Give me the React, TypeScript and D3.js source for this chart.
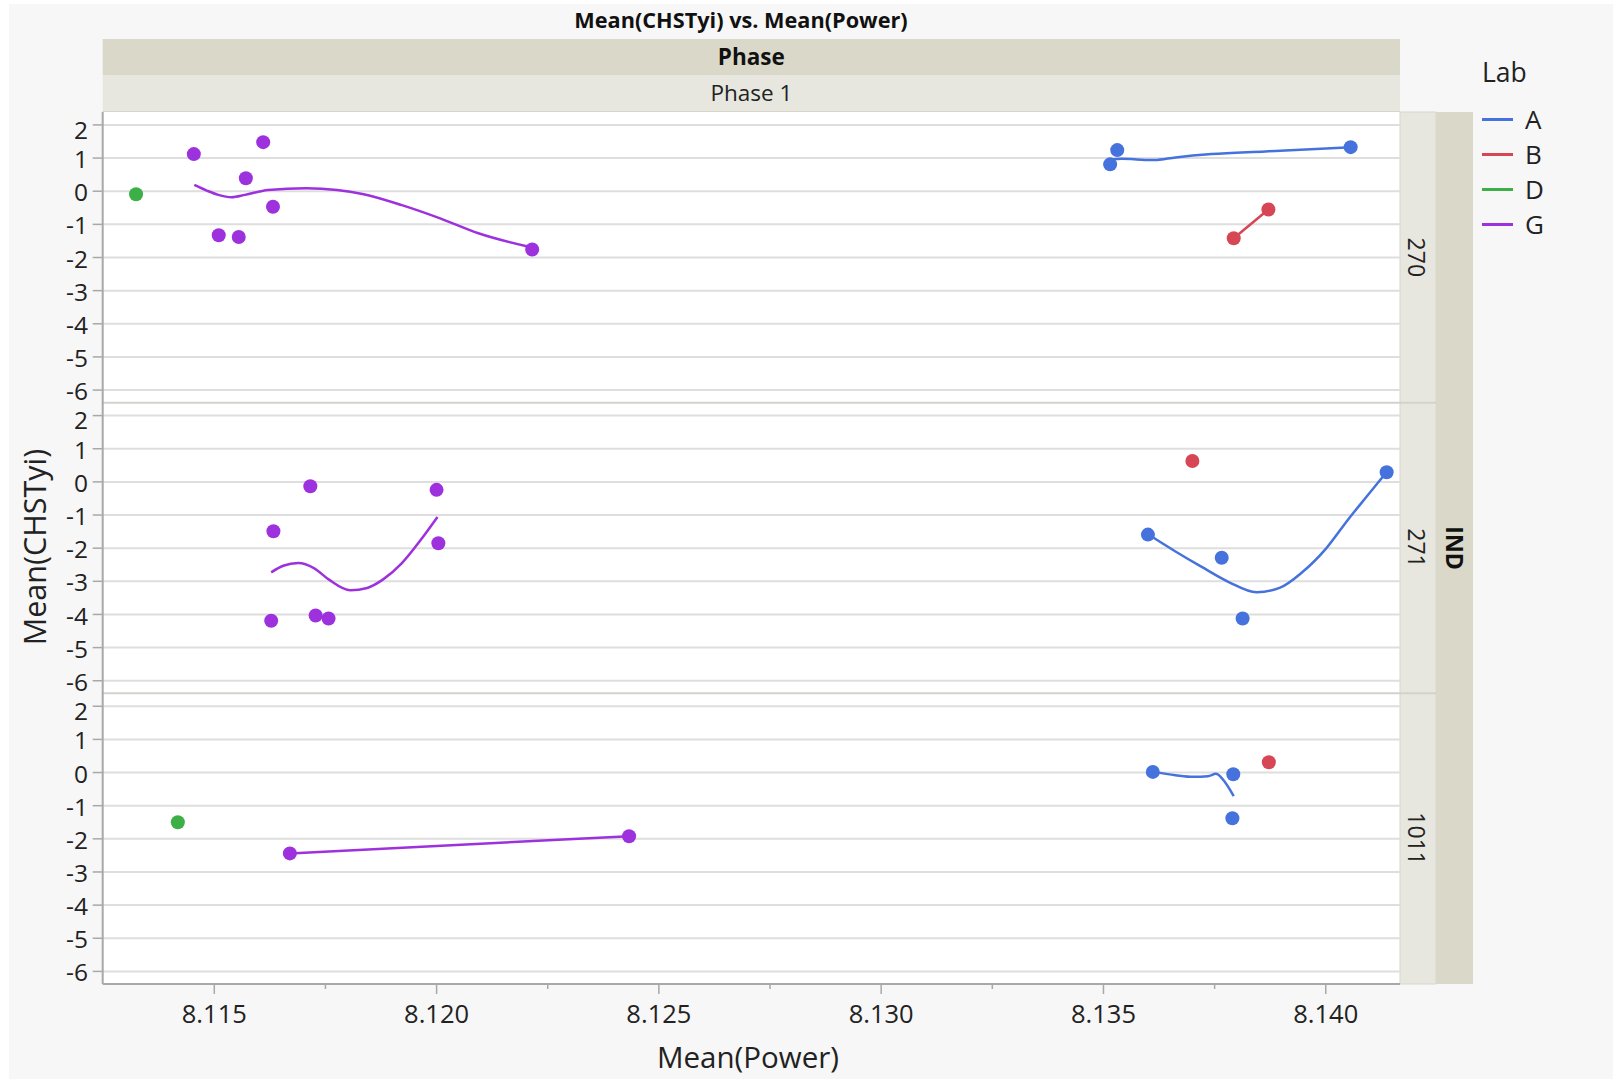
import React from "react";
import * as d3 from "d3";

// facets and groups
const panels = ["270", "271", "1011"];
const labs = ["A", "B", "D", "G"];
const labColors = ["#4672dd", "#d64655", "#3caf47", "#9d31dd"];

const xTicks = [8.115, 8.12, 8.125, 8.13, 8.135, 8.14];
const xMinorTicks = [8.1175, 8.1225, 8.1275, 8.1325, 8.1375];
const yTicks = [2, 1, 0, -1, -2, -3, -4, -5, -6];

// panel 270  [Mean(Power), Mean(CHSTyi)]
const p270_A = [[8.13515, 0.81], [8.13531, 1.24], [8.14056, 1.33]];
const p270_A_fit = [[8.13517, 0.96], [8.13541, 0.98], [8.13574, 0.96], [8.13614, 0.94], [8.13662, 1.02], [8.13743, 1.12], [8.13864, 1.2], [8.14056, 1.33]];
const p270_B = [[8.13793, -1.42], [8.13871, -0.55]];
const p270_D = [[8.11324, -0.09]];
const p270_G = [[8.11454, 1.12], [8.1151, -1.33], [8.11555, -1.38], [8.11571, 0.39], [8.1161, 1.48], [8.11632, -0.47], [8.12215, -1.76]];
const p270_G_fit = [[8.11455, 0.19], [8.11483, 0.02], [8.11509, -0.11], [8.11539, -0.18], [8.11569, -0.11], [8.11621, 0.04], [8.11707, 0.09], [8.11776, 0.04], [8.11836, -0.09], [8.11922, -0.42], [8.12008, -0.82], [8.12094, -1.27], [8.12215, -1.7]];

// panel 271
const p271_A = [[8.136, -1.59], [8.13766, -2.29], [8.13813, -4.12], [8.14137, 0.29]];
const p271_A_fit = [[8.136, -1.58], [8.13662, -2.1], [8.13719, -2.55], [8.13783, -3.03], [8.13844, -3.33], [8.13896, -3.2], [8.13945, -2.75], [8.14002, -1.99], [8.1405, -1.14], [8.14099, -0.33], [8.14137, 0.3]];
const p271_B = [[8.137, 0.63]];
const p271_G = [[8.11633, -1.49], [8.11628, -4.19], [8.11716, -0.13], [8.11728, -4.03], [8.11757, -4.12], [8.12, -0.24], [8.12004, -1.85]];
const p271_G_fit = [[8.11628, -2.73], [8.11655, -2.53], [8.11689, -2.45], [8.11724, -2.6], [8.11758, -2.95], [8.11806, -3.27], [8.11844, -3.2], [8.11879, -2.95], [8.11922, -2.45], [8.11965, -1.74], [8.12002, -1.06]];

// panel 1011
const p1011_A = [[8.13611, 0.02], [8.13792, -0.05], [8.1379, -1.38]];
const p1011_A_fit = [[8.13611, 0.02], [8.13662, -0.08], [8.13702, -0.13], [8.13735, -0.11], [8.13753, -0.04], [8.13767, -0.18], [8.13793, -0.71]];
const p1011_B = [[8.13872, 0.31]];
const p1011_D = [[8.11418, -1.5]];
const p1011_G = [[8.1167, -2.44], [8.12433, -1.92]];

const series = [
  { panel: 0, lab: "A", pts: p270_A, fit: p270_A_fit },
  { panel: 0, lab: "B", pts: p270_B, fit: p270_B },
  { panel: 0, lab: "D", pts: p270_D, fit: null },
  { panel: 0, lab: "G", pts: p270_G, fit: p270_G_fit },
  { panel: 1, lab: "A", pts: p271_A, fit: p271_A_fit },
  { panel: 1, lab: "B", pts: p271_B, fit: null },
  { panel: 1, lab: "G", pts: p271_G, fit: p271_G_fit },
  { panel: 2, lab: "A", pts: p1011_A, fit: p1011_A_fit },
  { panel: 2, lab: "B", pts: p1011_B, fit: null },
  { panel: 2, lab: "D", pts: p1011_D, fit: null },
  { panel: 2, lab: "G", pts: p1011_G, fit: p1011_G },
];

const FONT = "'Open Sans', 'Noto Sans', sans-serif";

export default function App() {
  const width = 1613;
  const height = 1079;
  const plotL = 102.7;
  const plotR = 1400;
  const plotT = 112;
  const plotB = 984;
  const panelH = (plotB - plotT) / panels.length;
  const stripW = 36;

  const x = d3.scaleLinear().domain([8.11249, 8.14167]).range([plotL, plotR]);
  const yScales = panels.map((_, i) =>
    d3.scaleLinear().domain([-6.38, 2.39]).range([plotT + (i + 1) * panelH, plotT + i * panelH])
  );
  const color = d3.scaleOrdinal<string, string>().domain(labs).range(labColors);

  return (
    <svg width={width} height={height} style={{ position: "absolute", left: 0, top: 0 }} fontFamily={FONT}>
      <defs>
        {panels.map((p, i) => (
          <clipPath id={"clip" + i} key={p}>
            <rect x={plotL} y={plotT + i * panelH} width={plotR - plotL} height={panelH} />
          </clipPath>
        ))}
      </defs>
      <rect x={9} y={4} width={width - 9} height={height - 4} fill="#f7f7f7" />

      {/* title */}
      <text x={741} y={28} textAnchor="middle" fontWeight="bold" fontSize={21.7} fill="#111">
        Mean(CHSTyi) vs. Mean(Power)
      </text>

      {/* column header */}
      <rect x={plotL} y={39} width={plotR - plotL} height={36} fill="#dad8c9" />
      <rect x={plotL} y={75} width={plotR - plotL} height={37} fill="#e7e7df" />
      <line x1={plotL} x2={plotR} y1={111.5} y2={111.5} stroke="#d6d5c8" />
      <text x={(plotL + plotR) / 2} y={65} textAnchor="middle" fontWeight="bold" fontSize={22.5} fill="#111">
        Phase
      </text>
      <text x={(plotL + plotR) / 2} y={101} textAnchor="middle" fontSize={22.5} fill="#222">
        Phase 1
      </text>

      {/* plot background */}
      <rect x={plotL} y={plotT} width={plotR - plotL} height={plotB - plotT} fill="#fff" />

      {/* right strips */}
      <rect x={plotR + stripW} y={plotT} width={37} height={plotB - plotT} fill="#dad8c9" />
      {panels.map((p, i) => {
        const y0 = plotT + i * panelH;
        return (
          <g key={p}>
            <rect x={plotR} y={y0} width={stripW} height={panelH} fill="#e7e7df" stroke="#d8d7cc" strokeWidth={1} />
            <text
              transform={`translate(${plotR + 8},${y0 + panelH / 2}) rotate(90)`}
              textAnchor="middle"
              fontSize={23}
              fill="#222"
            >
              {p}
            </text>
          </g>
        );
      })}
      <text
        transform={`translate(${plotR + stripW + 10},${plotT + 1.5 * panelH}) rotate(90)`}
        textAnchor="middle"
        fontWeight="bold"
        fontSize={23}
        fill="#111"
      >
        IND
      </text>

      {/* grid + y axes */}
      {panels.map((p, i) => {
        const y = yScales[i];
        return (
          <g key={p}>
            {yTicks.map((t) => (
              <g key={t}>
                <line x1={plotL} x2={plotR} y1={y(t)} y2={y(t)} stroke="#dedede" strokeWidth={2} />
                <line x1={plotL - 10} x2={plotL} y1={y(t)} y2={y(t)} stroke="#a8a8a8" strokeWidth={1.5} />
                <text x={88} y={y(t) + (t === 2 ? 5 : 1.5)} dy="0.35em" textAnchor="end" fontSize={24.5} fill="#222">
                  {String(t)}
                </text>
              </g>
            ))}
            {i > 0 && (
              <line x1={plotL} x2={plotR + stripW} y1={plotT + i * panelH} y2={plotT + i * panelH} stroke="#d3d3cd" strokeWidth={2} />
            )}
          </g>
        );
      })}

      {/* x axis */}
      <line x1={plotL} x2={plotR} y1={plotB} y2={plotB} stroke="#a8a8a8" strokeWidth={2} />
      <line x1={plotL} x2={plotL} y1={plotT} y2={plotB} stroke="#a8a8a8" strokeWidth={2} />
      {xTicks.map((t) => (
        <g key={t}>
          <line x1={x(t)} x2={x(t)} y1={plotB} y2={plotB + 10} stroke="#a8a8a8" strokeWidth={1.5} />
          <text x={x(t)} y={1023} textAnchor="middle" fontSize={25.5} fill="#222">
            {d3.format(".3f")(t)}
          </text>
        </g>
      ))}
      {xMinorTicks.map((t) => (
        <line key={t} x1={x(t)} x2={x(t)} y1={plotB} y2={plotB + 5} stroke="#a8a8a8" strokeWidth={1.5} />
      ))}

      {/* axis titles */}
      <text x={748} y={1068} textAnchor="middle" fontSize={29.5} fill="#222">
        Mean(Power)
      </text>
      <text transform={`translate(46,547) rotate(-90)`} textAnchor="middle" fontSize={30.5} fill="#222">
        Mean(CHSTyi)
      </text>

      {/* marks */}
      {series.map((s, k) => {
        const y = yScales[s.panel];
        const line = d3
          .line<number[]>()
          .x((d) => x(d[0]))
          .y((d) => y(d[1]))
          .curve(d3.curveMonotoneX);
        const c = color(s.lab);
        return (
          <g key={k} clipPath={`url(#clip${s.panel})`}>
            {s.fit && <path d={line(s.fit) || ""} fill="none" stroke={c} strokeWidth={2.5} />}
            {s.pts.map((d, j) => (
              <circle key={j} cx={x(d[0])} cy={y(d[1])} r={7} fill={c} />
            ))}
          </g>
        );
      })}

      {/* legend */}
      <text x={1482} y={82} fontSize={26.5} fill="#222">
        Lab
      </text>
      {labs.map((l, i) => {
        const ly = 119.5 + i * 35;
        return (
          <g key={l}>
            <line x1={1482} x2={1513} y1={ly} y2={ly} stroke={color(l)} strokeWidth={3} />
            <text x={1525} y={ly} dy="0.36em" fontSize={26} fill="#222">
              {l}
            </text>
          </g>
        );
      })}
    </svg>
  );
}
